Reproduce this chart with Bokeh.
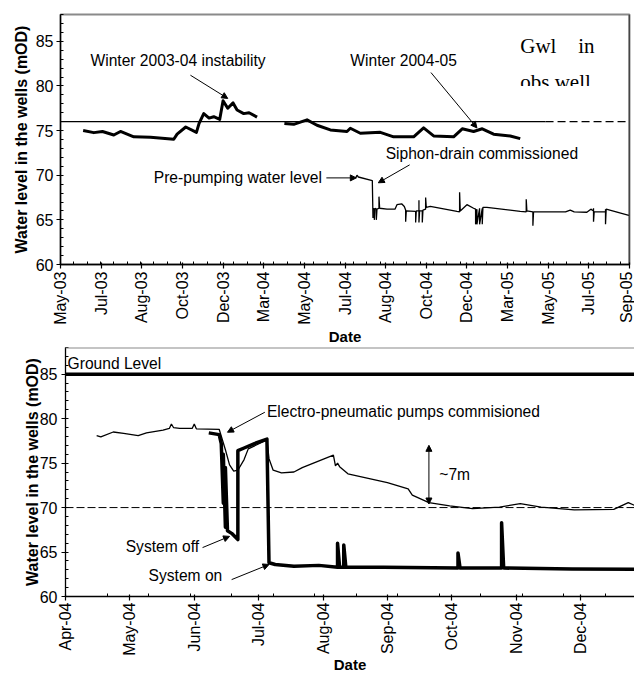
import pandas as pd
from math import pi
from bokeh.plotting import figure
from bokeh.layouts import column, row
from bokeh.models import (Range1d, FixedTicker, DatetimeTickFormatter, Label, Arrow,
                          NormalHead, Span, BoxAnnotation)
from bokeh.embed import file_html
from bokeh.resources import INLINE

FONT = "Liberation Sans"
SERIF = "Liberation Serif"

# ---------------- top panel data ----------------
top_x_start = "2003-05-01"
top_x_end = "2005-09-01"
top_tick_dates = ["2003-05-01", "2003-07-01", "2003-08-31", "2003-10-31", "2003-12-31",
                  "2004-03-01", "2004-05-01", "2004-07-01", "2004-08-31", "2004-10-31",
                  "2004-12-31", "2005-03-02", "2005-05-02", "2005-07-02", "2005-09-01"]
top_tick_labels = ["May-03", "Jul-03", "Aug-03", "Oct-03", "Dec-03", "Mar-04", "May-04",
                   "Jul-04", "Aug-04", "Oct-04", "Dec-04", "Mar-05", "May-05", "Jul-05", "Sep-05"]

gwl_dates_a = ["2003-06-04", "2003-06-20", "2003-07-03", "2003-07-20", "2003-07-30", "2003-08-19",
               "2003-09-13", "2003-10-18", "2003-10-23", "2003-11-05", "2003-11-21", "2003-11-25",
               "2003-12-02", "2003-12-10", "2003-12-17", "2003-12-26", "2003-12-31", "2004-01-07",
               "2004-01-15", "2004-01-21", "2004-01-31", "2004-02-08", "2004-02-20"]
gwl_vals_a = [75.0, 74.77, 74.9, 74.5, 74.9, 74.3, 74.25, 74.03, 74.6, 75.4, 74.8, 75.8,
              76.9, 76.4, 76.55, 76.26, 78.34, 77.5, 78.1, 77.3, 76.9, 77.0, 76.5]

gwl_dates_b = ["2004-04-01", "2004-04-15", "2004-05-05", "2004-05-20", "2004-06-09", "2004-07-04",
               "2004-07-09", "2004-07-24", "2004-08-23", "2004-09-12", "2004-10-12", "2004-10-27",
               "2004-11-11", "2004-12-11", "2004-12-24", "2005-01-10", "2005-01-23", "2005-02-09",
               "2005-03-06", "2005-03-21"]
gwl_vals_b = [75.8, 75.7, 76.2, 75.6, 75.07, 74.9, 75.26, 74.7, 74.8, 74.3, 74.3, 75.3,
              74.4, 74.3, 75.2, 74.9, 75.2, 74.6, 74.4, 74.1]

siphon_dates = ["2004-07-17", "2004-07-19", "2004-07-21", "2004-08-11", "2004-08-12", "2004-08-12",
                "2004-08-14", "2004-08-14", "2004-08-15", "2004-08-17", "2004-08-17", "2004-08-18",
                "2004-08-21", "2004-08-21", "2004-08-22", "2004-09-02", "2004-09-14", "2004-09-17",
                "2004-09-24", "2004-09-28", "2004-09-30", "2004-09-30", "2004-10-01", "2004-10-15",
                "2004-10-15", "2004-10-16", "2004-10-20", "2004-10-20", "2004-10-20", "2004-10-21",
                "2004-10-25", "2004-10-25", "2004-10-26", "2004-10-30", "2004-10-30", "2004-10-31",
                "2004-11-06", "2004-12-16", "2004-12-20", "2004-12-20", "2004-12-21", "2004-12-31",
                "2005-01-10", "2005-01-13", "2005-01-13", "2005-01-15", "2005-01-15", "2005-01-19",
                "2005-01-19", "2005-01-23", "2005-01-23", "2005-01-24", "2005-01-30", "2005-03-21",
                "2005-03-30", "2005-03-30", "2005-03-31", "2005-04-09", "2005-04-09", "2005-04-10",
                "2005-05-10", "2005-05-28", "2005-06-04", "2005-06-10", "2005-06-29", "2005-07-05",
                "2005-07-09", "2005-07-09", "2005-07-09", "2005-07-10", "2005-07-27", "2005-07-27",
                "2005-07-27", "2005-07-28", "2005-08-31"]
siphon_vals = [69.7, 70.0, 69.8, 69.4, 65.2, 66.3, 66.2, 65.0, 66.3, 66.2, 65.0, 66.2,
               66.3, 67.6, 66.3, 66.2, 66.2, 66.7, 66.8, 66.5, 66.1, 64.8, 66.0, 65.95,
               64.7, 66.0, 66.0, 67.2, 64.7, 66.0, 66.0, 64.7, 66.1, 66.2, 67.5, 66.4,
               66.5, 65.95, 65.9, 68.1, 66.0, 66.7, 66.3, 66.2, 64.5, 66.2, 64.5, 66.3,
               64.5, 66.3, 64.5, 66.4, 66.4, 65.95, 65.9, 67.3, 66.0, 65.9, 64.35, 65.9,
               65.9, 65.9, 66.1, 65.9, 65.85, 66.2, 66.0, 66.3, 64.8, 65.9, 65.9, 66.2,
               64.5, 66.2, 65.5]

gwl_reference_level = 76.0
gwl_reference_solid_end = "2005-04-28"

# ---------------- bottom panel data ----------------
bot_x_start = "2004-04-01"
bot_x_end = "2004-12-31"
bot_tick_dates = ["2004-04-01", "2004-05-02", "2004-06-02", "2004-07-03", "2004-08-03",
                  "2004-09-03", "2004-10-04", "2004-11-04", "2004-12-05"]
bot_tick_labels = ["Apr-04", "May-04", "Jun-04", "Jul-04", "Aug-04", "Sep-04", "Oct-04",
                   "Nov-04", "Dec-04"]

obs_dates = ["2004-04-16", "2004-04-18", "2004-04-24", "2004-04-29", "2004-05-06", "2004-05-10",
             "2004-05-18", "2004-05-21", "2004-05-22", "2004-05-23", "2004-05-26", "2004-06-01",
             "2004-06-02", "2004-06-03", "2004-06-14", "2004-06-17", "2004-06-19", "2004-06-21",
             "2004-06-23", "2004-06-26", "2004-06-28", "2004-07-07", "2004-07-08", "2004-07-10",
             "2004-07-14", "2004-07-20", "2004-07-24", "2004-08-08", "2004-08-09", "2004-08-10",
             "2004-08-11", "2004-08-15", "2004-09-03", "2004-09-13", "2004-09-15", "2004-09-23",
             "2004-10-03", "2004-10-14", "2004-10-27", "2004-11-06", "2004-11-16", "2004-12-02",
             "2004-12-21", "2004-12-28", "2004-12-31"]
obs_vals = [78.1, 77.95, 78.5, 78.35, 78.1, 78.4, 78.7, 78.9, 79.4, 79.0, 78.9, 78.9,
            79.4, 78.85, 78.8, 76.5, 74.8, 74.1, 74.2, 75.4, 76.6, 77.6, 75.5, 74.2,
            73.9, 74.0, 74.5, 75.9, 74.7, 75.0, 74.6, 73.8, 72.8, 72.1, 71.4, 70.55,
            70.2, 69.88, 70.05, 70.45, 70.05, 69.75, 69.8, 70.55, 70.25]

pump_dates = ["2004-06-09", "2004-06-14", "2004-06-15", "2004-06-16", "2004-06-16", "2004-06-17",
              "2004-06-17", "2004-06-18", "2004-06-20", "2004-06-23", "2004-06-23", "2004-06-26",
              "2004-07-01", "2004-07-07", "2004-07-08", "2004-07-11", "2004-07-20", "2004-08-01",
              "2004-08-10", "2004-08-10", "2004-08-11", "2004-08-13", "2004-08-13", "2004-08-14",
              "2004-09-01", "2004-10-07", "2004-10-07", "2004-10-08", "2004-10-28", "2004-10-28",
              "2004-10-29", "2004-12-01", "2004-12-31"]
pump_vals = [78.4, 78.2, 77.2, 70.5, 76.0, 67.8, 74.5, 67.4, 67.1, 66.4, 76.4, 76.7,
             77.2, 77.7, 63.8, 63.6, 63.4, 63.5, 63.3, 66.0, 63.3, 63.3, 65.8, 63.3,
             63.3, 63.2, 64.9, 63.2, 63.2, 68.3, 63.2, 63.1, 63.05]

ground_level = 85.0
target_level = 70.0

y_major_ticks = [60, 65, 70, 75, 80, 85]
y_minor_ticks = list(range(60, 89))


def ms(d):
    return pd.Timestamp(d).value / 1e6


def dt(lst):
    return pd.to_datetime(lst)


def style(p, tick_dates, tick_labels, x0, x1, x_lab_standoff, x_title_standoff,
          y_lab_standoff, y_title_standoff):
    p.xgrid.visible = False
    p.ygrid.visible = False
    p.background_fill_color = "white"
    p.border_fill_color = "white"
    ticks = [ms(d) for d in tick_dates]
    minor = [ms(d) for d in pd.date_range(x0, x1, freq="20D")]
    p.xaxis.ticker = FixedTicker(ticks=ticks, minor_ticks=minor)
    fmt = "%b-%y"
    p.xaxis.formatter = DatetimeTickFormatter(milliseconds=fmt, seconds=fmt, minsec=fmt, minutes=fmt,
                                              hourmin=fmt, hours=fmt, days=fmt, months=fmt, years=fmt)
    p.xaxis.major_label_overrides = dict(zip(ticks, tick_labels))
    p.xaxis.major_label_orientation = pi / 2
    p.yaxis.ticker = FixedTicker(ticks=y_major_ticks, minor_ticks=y_minor_ticks)
    for ax in p.axis:
        ax.axis_line_color = "black"
        ax.axis_line_width = 1.3
        ax.major_tick_line_color = "black"
        ax.minor_tick_line_color = "black"
        ax.major_tick_line_width = 1.2
        ax.minor_tick_line_width = 1.0
        ax.major_tick_in = 2
        ax.major_tick_out = 4
        ax.minor_tick_in = 3
        ax.minor_tick_out = 0
        ax.major_label_text_font = FONT
        ax.major_label_text_font_size = "16px"
        ax.major_label_text_color = "black"
        ax.axis_label_text_font = FONT
        ax.axis_label_text_font_style = "bold"
        ax.axis_label_text_color = "black"
    p.xaxis.major_label_standoff = x_lab_standoff
    p.xaxis.axis_label = "Date"
    p.xaxis.axis_label_text_font_size = "15px"
    p.xaxis.axis_label_standoff = x_title_standoff
    p.yaxis.major_label_standoff = y_lab_standoff
    p.yaxis.axis_label = "Water level in the wells (mOD)"
    p.yaxis.axis_label_text_font_size = "16px"
    p.yaxis.axis_label_standoff = y_title_standoff


def label(p, x, y, text, size="15.6px", font=FONT, baseline="middle"):
    p.add_layout(Label(x=ms(x), y=y, text=text, text_font=font, text_font_size=size,
                       text_color="black", text_baseline=baseline, text_align="left"))


def arrow(p, x0, y0, x1, y1, both=False):
    head = NormalHead(size=6, fill_color="black", line_color="black", line_width=1)
    start = NormalHead(size=6, fill_color="black", line_color="black", line_width=1) if both else None
    p.add_layout(Arrow(x_start=ms(x0), y_start=y0, x_end=ms(x1), y_end=y1, end=head, start=start,
                       line_color="black", line_width=1))


# ---------------- top figure ----------------
p1 = figure(width=634, height=347, x_axis_type="datetime",
            x_range=Range1d(ms(top_x_start), ms(top_x_end)), y_range=Range1d(60, 88),
            output_backend="svg", toolbar_location=None,
            min_border_left=60, min_border_right=5, min_border_top=14, min_border_bottom=0)
style(p1, top_tick_dates, top_tick_labels, top_x_start, top_x_end, 3, 0, 3, 3)
p1.outline_line_color = "#8a8a8a"
p1.outline_line_width = 2
p1.add_layout(Span(location=ms(top_x_end), dimension="height", line_color="black", line_width=1.5))

p1.line(dt([top_x_start, gwl_reference_solid_end]), [gwl_reference_level] * 2,
        line_color="black", line_width=1.2)
p1.line(dt([gwl_reference_solid_end, top_x_end]), [gwl_reference_level] * 2,
        line_color="black", line_width=1.2, line_dash="8 4")
p1.line(dt(gwl_dates_a), gwl_vals_a, line_color="black", line_width=3, line_join="round")
p1.line(dt(gwl_dates_b), gwl_vals_b, line_color="black", line_width=3, line_join="round")
p1.line(dt(siphon_dates), siphon_vals, line_color="black", line_width=1.3)

label(p1, "2003-06-15", 82.8, "Winter 2003-04 instability")
arrow(p1, "2003-11-12", 81.2, "2004-01-07", 78.6)
label(p1, "2004-07-09", 82.9, "Winter 2004-05")
arrow(p1, "2004-11-07", 81.5, "2005-01-15", 75.3)
label(p1, "2004-08-31", 72.47, "Siphon-drain commissioned")
arrow(p1, "2004-10-06", 71.16, "2004-08-20", 69.15)
label(p1, "2003-09-18", 69.7, "Pre-pumping water level")
arrow(p1, "2004-06-03", 69.7, "2004-07-18", 69.7)
label(p1, "2005-03-21", 84.44, "Gwl", size="21px", font=SERIF)
label(p1, "2005-06-16", 84.44, "in", size="21px", font=SERIF)
label(p1, "2005-03-21", 80.39, "obs.well", size="21px", font=SERIF)
p1.add_layout(BoxAnnotation(left=ms("2005-03-10"), right=ms("2005-07-25"), bottom=78.0, top=79.98,
                            fill_color="white", fill_alpha=1, line_color=None))

# ---------------- bottom figure ----------------
p2 = figure(width=634, height=328, x_axis_type="datetime",
            x_range=Range1d(ms(bot_x_start), ms(bot_x_end)), y_range=Range1d(60, 88),
            output_backend="svg", toolbar_location=None,
            min_border_left=65, min_border_right=0, min_border_top=0, min_border_bottom=0)
style(p2, bot_tick_dates, bot_tick_labels, bot_x_start, bot_x_end, 2, -3, 4, -4)
p2.outline_line_color = None
p2.add_layout(Span(location=88, dimension="width", line_color="#8a8a8a", line_width=2))

p2.add_layout(Span(location=ground_level, dimension="width", line_color="black", line_width=3.5))
p2.add_layout(Span(location=target_level, dimension="width", line_color="black", line_width=1,
                   line_dash="8 3"))
p2.line(dt(obs_dates), obs_vals, line_color="black", line_width=1.3)
p2.line(dt(pump_dates), pump_vals, line_color="black", line_width=3.5, line_join="round")

label(p2, "2004-04-02", 86.24, "Ground Level")
label(p2, "2004-07-07", 80.83, "Electro-pneumatic pumps commisioned")
arrow(p2, "2004-07-06", 80.72, "2004-06-18", 78.47)
label(p2, "2004-04-30", 65.63, "System off")
arrow(p2, "2004-06-06", 65.5, "2004-06-19", 66.76)
label(p2, "2004-05-11", 62.36, "System on")
arrow(p2, "2004-06-20", 61.9, "2004-07-08", 63.6)
label(p2, "2004-09-28", 73.74, "~7m")
arrow(p2, "2004-09-23", 70.4, "2004-09-23", 77.0, both=True)

layout = column(row(p1), row(p2), spacing=0)
open("out.html", "w").write(file_html(layout, INLINE))
